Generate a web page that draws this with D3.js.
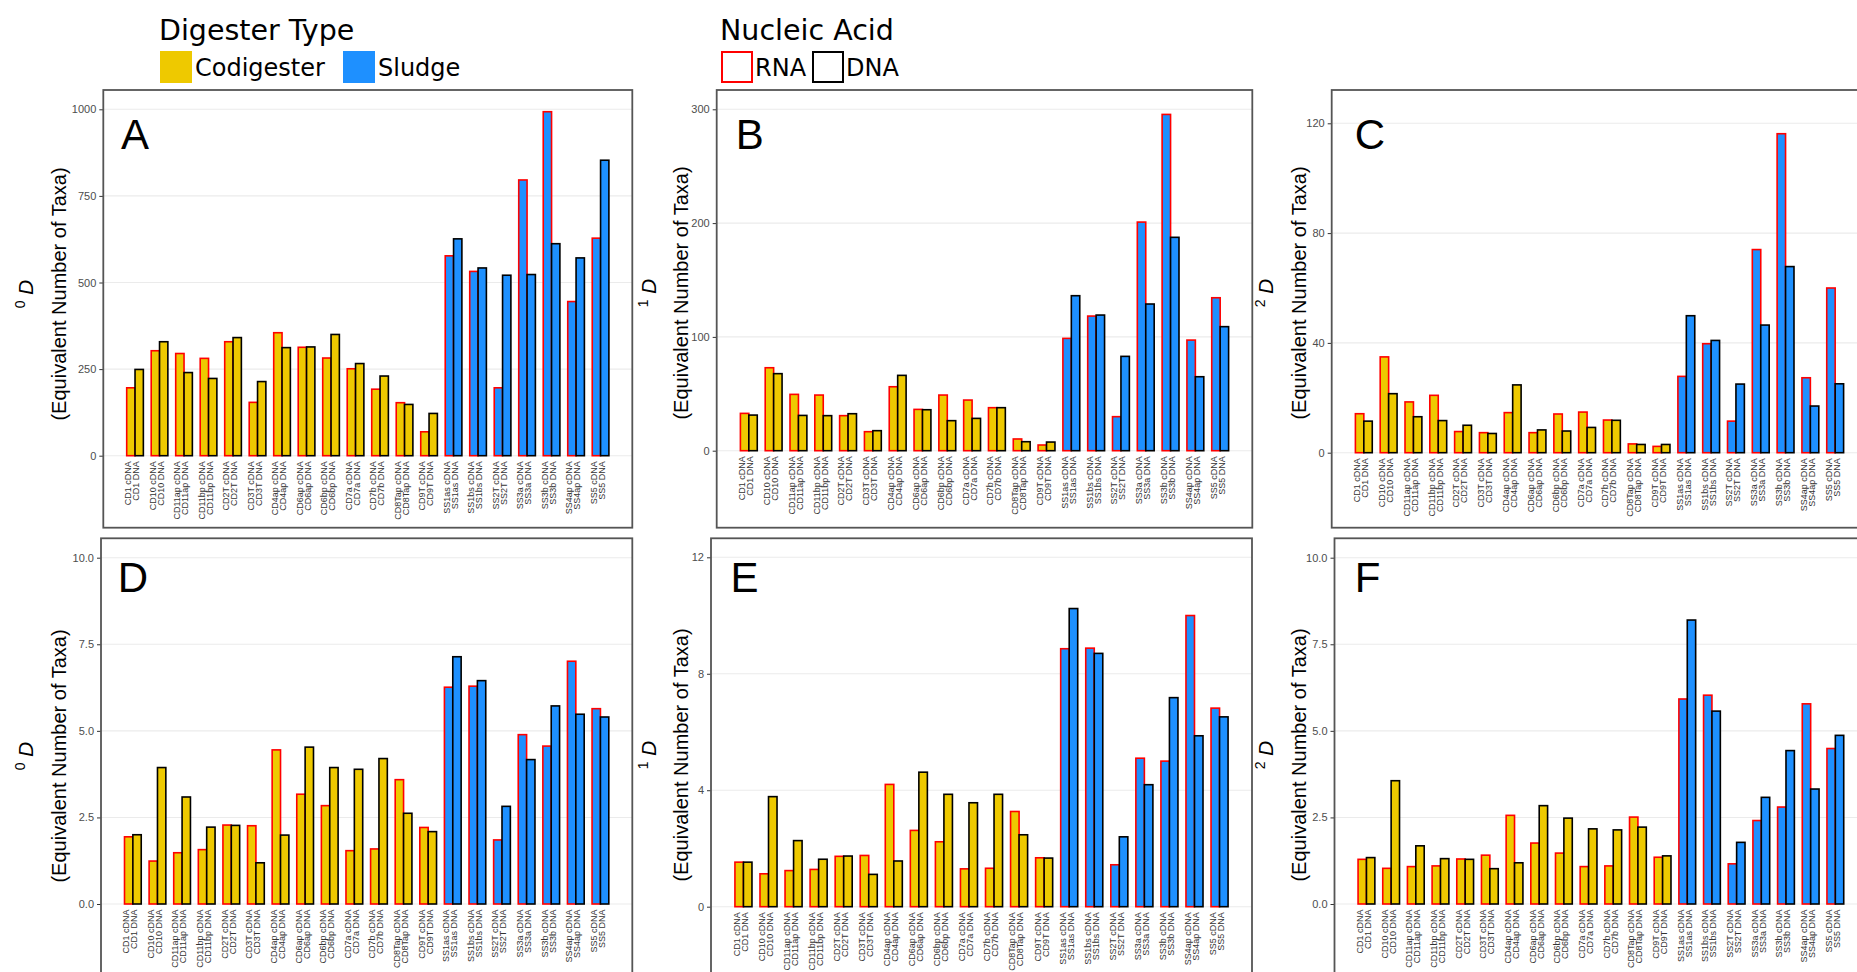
<!DOCTYPE html>
<html>
<head>
  <meta charset="utf-8">
  <script src="https://d3js.org/d3.v7.min.js"></script>
  <style>
    body { margin: 0; background: #fff; }
    svg { display: block; }
    .ytick text { font-family: "Liberation Sans", Arial, sans-serif; font-size: 11px; fill: #4d4d4d; }
    .xlab { font-family: "Liberation Sans", Arial, sans-serif; font-size: 9px; fill: #333; }
    .ytitle { font-family: "Liberation Sans", Arial, sans-serif; font-size: 20px; fill: #000; }
    .letter { font-family: "Liberation Sans", Arial, sans-serif; font-size: 42px; fill: #000; }
    .legend { font-family: "DejaVu Sans", sans-serif; fill: #000; }
  </style>
</head>
<body>
  <svg id="fig" width="1857" height="972"></svg>
  <script>
    // samples, pairs of cDNA (RNA) / DNA libraries
    const samples = ["CD1", "CD10", "CD11ap", "CD11bp", "CD2T", "CD3T", "CD4ap", "CD6ap", "CD6bp", "CD7a",
      "CD7b", "CD8Tap", "CD9T", "SS1as", "SS1bs", "SS2T", "SS3a", "SS3b", "SS4ap", "SS5"];
    const sampleType = ["Codigester", "Codigester", "Codigester", "Codigester", "Codigester", "Codigester",
      "Codigester", "Codigester", "Codigester", "Codigester", "Codigester", "Codigester", "Codigester",
      "Sludge", "Sludge", "Sludge", "Sludge", "Sludge", "Sludge", "Sludge"];
    const acids = ["cDNA", "DNA"];

    // top row
    const aCDNA = [196, 303, 295, 281, 329, 154, 355, 313, 282, 251, 192, 153, 69, 577, 532, 196, 796, 993, 445, 628];
    const aDNA = [249, 329, 240, 223, 341, 214, 312, 314, 350, 266, 230, 148, 122, 626, 542, 521, 523, 612, 571, 853];
    const bCDNA = [32.8, 72.9, 49.5, 48.9, 30.8, 16.7, 56.2, 36.3, 48.9, 44.5, 37.8, 10.3, 5, 98.7, 118.3, 29.9, 200.9, 295.5, 97.2, 134.4];
    const bDNA = [31.3, 67.7, 31, 30.8, 32.5, 17.6, 66.2, 36, 26.4, 28.4, 37.8, 7.9, 7.6, 136.2, 119.2, 82.9, 128.9, 187.5, 65, 109];
    const cCDNA = [14.2, 34.9, 18.5, 20.9, 7.7, 7.3, 14.6, 7.3, 14.1, 14.8, 11.9, 3.2, 2.3, 27.8, 39.7, 11.5, 74, 116.2, 27.3, 60];
    const cDNA = [11.5, 21.5, 13.1, 11.7, 10, 7, 24.7, 8.3, 7.9, 9.2, 11.8, 3, 3, 49.9, 40.9, 25, 46.5, 67.8, 17, 25.1];
    // bottom row
    const dCDNA = [1.94, 1.24, 1.48, 1.57, 2.28, 2.26, 4.45, 3.17, 2.84, 1.54, 1.59, 3.59, 2.21, 6.26, 6.29, 1.85, 4.89, 4.56, 7.01, 5.64];
    const dDNA = [2.0, 3.94, 3.09, 2.22, 2.27, 1.19, 1.99, 4.53, 3.94, 3.89, 4.2, 2.62, 2.09, 7.14, 6.45, 2.82, 4.17, 5.72, 5.48, 5.4];
    const eCDNA = [1.53, 1.13, 1.24, 1.28, 1.73, 1.76, 4.2, 2.62, 2.23, 1.3, 1.32, 3.27, 1.68, 8.86, 8.88, 1.44, 5.1, 5.0, 10.0, 6.82];
    const eDNA = [1.53, 3.78, 2.27, 1.63, 1.74, 1.11, 1.57, 4.62, 3.86, 3.57, 3.86, 2.47, 1.67, 10.24, 8.7, 2.4, 4.19, 7.18, 5.87, 6.52];
    const fCDNA = [1.29, 1.03, 1.08, 1.1, 1.3, 1.41, 2.56, 1.76, 1.47, 1.08, 1.1, 2.51, 1.35, 5.92, 6.03, 1.16, 2.41, 2.8, 5.78, 4.49];
    const fDNA = [1.34, 3.56, 1.68, 1.31, 1.29, 1.02, 1.19, 2.84, 2.48, 2.17, 2.14, 2.22, 1.39, 8.2, 5.57, 1.78, 3.08, 4.43, 3.32, 4.87];

    const ticksA = [0, 250, 500, 750, 1000];
    const ticksB = [0, 100, 200, 300];
    const ticksC = [0, 40, 80, 120];
    const ticksD = [0, 2.5, 5, 7.5, 10];
    const ticksE = [0, 4, 8, 12];
    const ticksF = [0, 2.5, 5, 7.5, 10];

    const fill = d3.scaleOrdinal().domain(["Codigester", "Sludge"]).range(["#EEC900", "#1E90FF"]);
    const edge = d3.scaleOrdinal().domain(acids).range(["#ff0000", "#000000"]);

    // frame = [left, top, right, bottom]; y0/yTop = pixel of first/last tick; b1/b2 = title baselines
    const panels = [
      { id: "A", q: "0", v: [aCDNA, aDNA], ticks: ticksA, fmt: d3.format("d"), frame: [103.3, 90, 632.3, 527.7], y0: 455.7, yTop: 109.3, b1: 33, b2: 66, ty: 294, ly: 148.5, lx: 0 },
      { id: "B", q: "1", v: [bCDNA, bDNA], ticks: ticksB, fmt: d3.format("d"), frame: [716.7, 90, 1252.3, 527.7], y0: 450.7, yTop: 109.3, b1: 656, b2: 687.5, ty: 293, ly: 148.5, lx: 1 },
      { id: "C", q: "2", v: [cCDNA, cDNA], ticks: ticksC, fmt: d3.format("d"), frame: [1331.7, 90, 1867.3, 527.7], y0: 452.7, yTop: 123.3, b1: 1273, b2: 1306, ty: 293, ly: 148.5, lx: 6 },
      { id: "D", q: "0", v: [dCDNA, dDNA], ticks: ticksD, fmt: d3.format(".1f"), frame: [101, 538.3, 632.3, 990], y0: 904, yTop: 557.7, b1: 33, b2: 66, ty: 756, ly: 591.7, lx: 0 },
      { id: "E", q: "1", v: [eCDNA, eDNA], ticks: ticksE, fmt: d3.format("d"), frame: [711, 538.3, 1252, 990], y0: 906.7, yTop: 557.3, b1: 656, b2: 687.5, ty: 755, ly: 591.7, lx: 1 },
      { id: "F", q: "2", v: [fCDNA, fDNA], ticks: ticksF, fmt: d3.format(".1f"), frame: [1334.5, 538.3, 1867.3, 990], y0: 904, yTop: 557.7, b1: 1273, b2: 1306, ty: 755, ly: 591.7, lx: 1 }
    ];

    const svg = d3.select("#fig");

    panels.forEach(function (p) {
      const f = p.frame;
      const g = svg.append("g").attr("class", "panel-" + p.id);

      const y = d3.scaleLinear()
        .domain([0, d3.max(p.ticks)])
        .range([p.y0, p.yTop]);

      const x0 = d3.scaleBand()
        .domain(samples)
        .range([f[0], f[2]])
        .paddingInner(0.32)
        .paddingOuter(0.955);

      const x1 = d3.scaleBand()
        .domain(acids)
        .range([0, x0.bandwidth()]);

      // grid
      g.append("g").selectAll("line")
        .data(p.ticks)
        .join("line")
        .attr("x1", f[0]).attr("x2", f[2])
        .attr("y1", d => y(d)).attr("y2", d => y(d))
        .attr("stroke", "#ebebeb")
        .attr("stroke-width", 1.1);

      // bars
      const rows = [];
      samples.forEach(function (s, i) {
        acids.forEach(function (a, j) {
          rows.push({ sample: s, type: sampleType[i], acid: a, value: p.v[j][i] });
        });
      });

      g.append("g").selectAll("rect")
        .data(rows)
        .join("rect")
        .attr("x", d => x0(d.sample) + x1(d.acid))
        .attr("y", d => y(d.value))
        .attr("width", x1.bandwidth())
        .attr("height", d => y(0) - y(d.value))
        .attr("fill", d => fill(d.type))
        .attr("stroke", d => edge(d.acid))
        .attr("stroke-width", 1.6);

      // y axis, outside the frame
      const yAxis = g.append("g")
        .attr("class", "ytick")
        .attr("transform", "translate(" + f[0] + ",0)")
        .call(d3.axisLeft(y).tickValues(p.ticks).tickFormat(p.fmt).tickSize(4).tickPadding(3));
      yAxis.select(".domain").remove();
      yAxis.selectAll(".tick line").attr("stroke", "#333");

      // two-line sample labels, rotated
      const lab = g.append("g").selectAll("g")
        .data(samples)
        .join("g")
        .attr("transform", d => "translate(" + (x0(d) + x0.bandwidth() / 2) + "," + (p.y0 + 5.5) + ") rotate(-90)");
      lab.append("text")
        .attr("class", "xlab")
        .attr("text-anchor", "end")
        .attr("y", -3.6)
        .text(d => d + " cDNA");
      lab.append("text")
        .attr("class", "xlab")
        .attr("text-anchor", "end")
        .attr("y", 4.4)
        .text(d => d + " DNA");

      // y title
      g.append("text")
        .attr("class", "ytitle")
        .attr("text-anchor", "middle")
        .attr("transform", "translate(" + p.b2 + "," + p.ty + ") rotate(-90)")
        .text("(Equivalent Number of Taxa)");
      const t1 = g.append("text")
        .attr("class", "ytitle")
        .attr("text-anchor", "middle")
        .attr("transform", "translate(" + p.b1 + "," + p.ty + ") rotate(-90)");
      t1.append("tspan").attr("font-size", 14).attr("dy", -8).text(p.q);
      t1.append("tspan").attr("dy", 8).text(" ");
      t1.append("tspan").attr("font-size", 21).attr("font-style", "italic").text("D");

      // panel letter
      g.append("text")
        .attr("class", "letter")
        .attr("text-anchor", "middle")
        .attr("x", x0(samples[0]) + x0.bandwidth() / 2 + p.lx)
        .attr("y", p.ly)
        .text(p.id);

      // frame
      g.append("rect")
        .attr("x", f[0]).attr("y", f[1])
        .attr("width", f[2] - f[0]).attr("height", f[3] - f[1])
        .attr("fill", "none")
        .attr("stroke", "#555")
        .attr("stroke-width", 1.8);
    });

    // legends
    const leg = svg.append("g").attr("class", "legend");
    leg.append("text").attr("x", 159).attr("y", 40).attr("font-size", 28.5).text("Digester Type");
    const typeKeys = [{ k: "Codigester", x: 160 }, { k: "Sludge", x: 343 }];
    typeKeys.forEach(function (d) {
      leg.append("rect").attr("x", d.x).attr("y", 51).attr("width", 32).attr("height", 32).attr("fill", fill(d.k));
      leg.append("text").attr("x", d.x + 35).attr("y", 76).attr("font-size", 24).text(d.k);
    });

    leg.append("text").attr("x", 720).attr("y", 40).attr("font-size", 28.5).text("Nucleic Acid");
    const acidKeys = [{ k: "cDNA", name: "RNA", x: 722 }, { k: "DNA", name: "DNA", x: 813 }];
    acidKeys.forEach(function (d) {
      leg.append("rect").attr("x", d.x).attr("y", 52).attr("width", 30).attr("height", 30)
        .attr("fill", "#fff").attr("stroke", edge(d.k)).attr("stroke-width", 2);
      leg.append("text").attr("x", d.x + 33).attr("y", 76).attr("font-size", 24).text(d.name);
    });
  </script>
</body>
</html>
